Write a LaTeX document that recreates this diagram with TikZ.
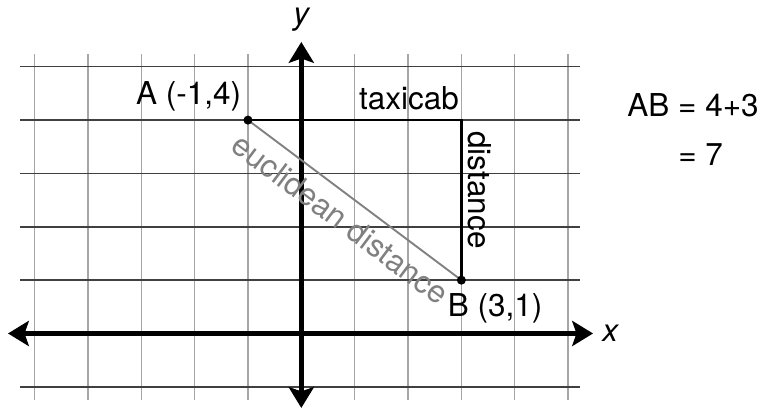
\documentclass[tikz,border=0pt]{standalone}
\usepackage{fontspec}
\setmainfont{TeX Gyre Heros}
\usetikzlibrary{arrows.meta}

\begin{document}
\begin{tikzpicture}[
        punta/.tip={Stealth[length=0.39cm, width=0.47cm, inset=0.08cm]},
        eix/.style={line width=2.4pt, punta-punta},
        lbl/.style={font=\fontsize{16.8}{20}\selectfont, inner sep=0pt}]
        \useasboundingbox (-5.648,-1.415) rectangle (8.654,6.251);
        % Quadricula
        \foreach \x in {-5,...,5}
            \draw[black!35, line width=0.8pt] (\x,-1.246) -- (\x,5.239);
        \foreach \y in {-1,...,5}
            \draw[black!75, line width=0.8pt] (-5.273,\y) -- (5.224,\y);
        % Eixos
        \coordinate (xesq) at (-5.498,0);
        \coordinate (xdre) at (5.468,0);
        \coordinate (ybaix) at (0,-1.396);
        \coordinate (ydalt) at (0,5.464);
        \draw[eix] (xesq) -- (xdre);
        \draw[eix] (ybaix) -- (ydalt);
        \node[lbl, font=\fontsize{16.8}{20}\selectfont\itshape] (xlab) at (5.79,0) {x};
        \node[lbl, font=\fontsize{16.8}{20}\selectfont\itshape] (ylab) at (0,5.876) {y};
        % Punts A, B i cantonada
        \coordinate (A) at (-1,4);
        \coordinate (B) at (3,1);
        \coordinate (C) at (3,4);
        \draw[black!50, line width=1pt] (A) -- (B)
            node[midway, sloped, below, lbl, inner sep=0.2cm, text=black!50] (euc) {euclidean distance};
        \draw[line width=1.3pt] (A) -- (C) -- (B);
        \fill (A) circle (0.085);
        \fill (B) circle (0.085);
        \node[lbl, anchor=base east] (Alab) at ([xshift=-0.12cm, yshift=0.294cm]A) {A (-1,4)};
        \node[lbl, anchor=base west] (Blab) at ([xshift=-0.26cm, yshift=-0.68cm]B) {B (3,1)};
        \node[lbl, anchor=base east] (taxi) at ([xshift=-0.04cm, yshift=0.2cm]C) {taxicab};
        \node[lbl, anchor=base west, rotate=-90] (dist) at ([xshift=0.142cm, yshift=-0.206cm]C) {distance};
        % Resultat
        \node[lbl, anchor=base west] (ABeq) at (6.105,4.058) {AB = 4+3};
        \node[lbl, anchor=base west] (ABres) at (7.06,3.158) {= 7};
    \end{tikzpicture}
\end{document}
